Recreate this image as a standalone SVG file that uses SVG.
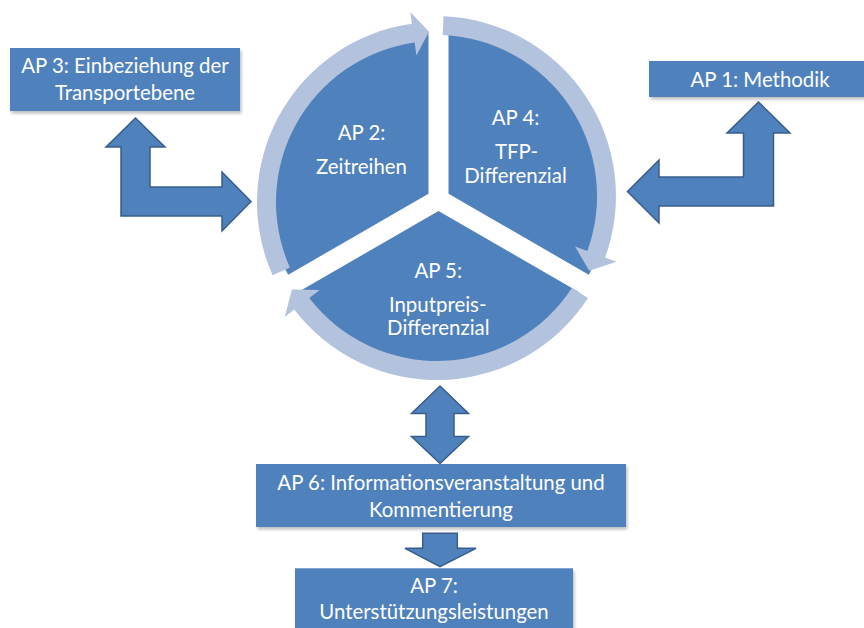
<svg xmlns="http://www.w3.org/2000/svg" width="864" height="628" viewBox="0 0 864 628">
<defs>
<filter id="sh" x="-10%" y="-10%" width="130%" height="140%">
<feDropShadow dx="1.5" dy="2.5" stdDeviation="1.5" flood-color="#000" flood-opacity="0.25"/>
</filter>
<style>
.seg{fill:#4F81BD;}
.box{fill:#4F81BD;filter:url(#sh);}
.ring{fill:#B3C2DD;}
.blk{fill:#4F81BD;stroke:#385D8A;stroke-width:1.5;stroke-linejoin:miter;}
text{font-family:Lato,"Open Sans","Liberation Sans",sans-serif;font-size:20.4px;fill:#FFFFFF;text-anchor:middle;}
</style>
</defs>
<rect width="864" height="628" fill="#FFFFFF"/>
<g id="node-ap2">
<path class="seg" d="M428.5 193.75 L288.2 274.75 A162 162 0 0 1 428.5 31.75 Z"/>
<text x="361.5" y="140">AP 2:</text>
<text x="361.5" y="174">Zeitreihen</text>
</g>
<g id="node-ap4">
<path class="seg" d="M448.5 193.75 L448.5 31.75 A162 162 0 0 1 588.8 274.75 Z"/>
<text x="515.5" y="125">AP 4:</text>
<text x="516.5" y="159">TFP-</text>
<text x="515.5" y="183.3">Differenzial</text>
</g>
<g id="node-ap5">
<path class="seg" d="M438.5 211 L578.8 292 A162 162 0 0 1 298.2 292 Z"/>
<text x="438.2" y="278.3">AP 5:</text>
<text x="437.7" y="311.7">Inputpreis-</text>
<text x="438.3" y="335">Differenzial</text>
</g>
<g id="node-ap3">
<rect class="box" x="10" y="48" width="230" height="63"/>
<text x="125" y="73.3">AP 3: Einbeziehung der</text>
<text x="125" y="100">Transportebene</text>
</g>
<g id="node-ap1">
<rect class="box" x="649" y="61" width="222" height="36"/>
<text x="760" y="86.7">AP 1: Methodik</text>
</g>
<g id="node-ap6">
<rect class="box" x="256" y="464" width="370" height="63"/>
<text x="441" y="490">AP 6: Informationsveranstaltung und</text>
<text x="441" y="516.7">Kommentierung</text>
</g>
<g id="node-ap7">
<rect class="box" x="295" y="568.3" width="278" height="70"/>
<text x="434" y="593.3">AP 7:</text>
<text x="434" y="619.3">Unterstützungsleistungen</text>
</g>
<g id="connectors">
<path class="ring" d="M272.6 275.2 A180 180 0 0 1 411.9 23.7 L410.3 11.9 L429 31.7 L416.4 55.4 L414.6 42.6 A161 161 0 0 0 289.9 267.5 Z"/>
<path class="ring" d="M443.5 16.2 A180 180 0 0 1 605.1 257.6 L616.4 261.7 L589.2 270.7 L575.1 246.6 L587.3 251.1 A161 161 0 0 0 442.7 35.1 Z"/>
<path class="ring" d="M588 298 A180 180 0 0 1 294.2 309.6 L284.7 316.9 L291.9 289.6 L319.6 290.1 L309.3 298 A161 161 0 0 0 572 287.7 Z"/>
<path class="blk" d="M135.5 118 L165 147 L150 147 L150 187 L222 187 L222 172 L251 201.5 L222 231 L222 216 L121 216 L121 147 L106 147 Z"/>
<path class="blk" d="M758.5 102 L790 133 L773.5 133 L773.5 206 L659 206 L659 223 L627.5 191.5 L659 160 L659 177 L743.5 177 L743.5 133 L727 133 Z"/>
<path class="blk" d="M440 386 L468.5 413.5 L454 413.5 L454 436.5 L468.5 436.5 L440 463.5 L411.5 436.5 L426 436.5 L426 413.5 L411.5 413.5 Z"/>
<path class="blk" d="M422.7 533.3 L457.3 533.3 L457.3 548.3 L476 548.3 L440 566.7 L405 548.3 L422.7 548.3 Z"/>
</g>
</svg>
